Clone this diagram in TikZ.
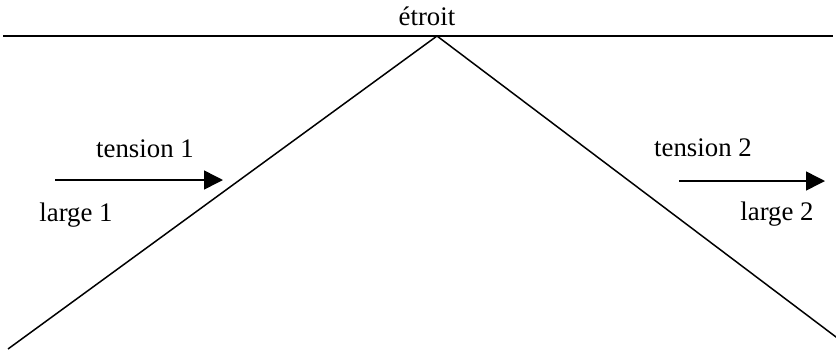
\documentclass[tikz,border=0pt]{standalone}
\usepackage{fontspec}
\setmainfont{Liberation Serif}
\usetikzlibrary{arrows.meta}

\begin{document}
\begin{tikzpicture}[
  x=0.5pt, y=-0.5pt,
  >={Triangle[length=9.5pt, width=9.5pt]},
  edge/.style={line width=0.75pt, black},
  flow/.style={->, line width=0.75pt, black},
  lbl/.style={font=\fontsize{13.4}{16}\selectfont, inner sep=0pt, anchor=base},
]
\useasboundingbox (0,0) rectangle (836,349);

% Profile: top line and the two slopes
\coordinate (topL) at (3,36);
\coordinate (topR) at (833,36);
\coordinate (apex) at (437,36);
\coordinate (footL) at (8,349);
\coordinate (footR) at (840,340);

\draw[edge] (topL) -- (topR);
\draw[edge] (footL) -- (apex) -- (footR);

\node[lbl] (etroit) at (427,25) {étroit};

% Left side
\coordinate (inL) at (55,180);
\coordinate (outL) at (223,180);
\draw[flow] (inL) -- (outL);
\node[lbl] (tension1) at (145,157) {tension 1};
\node[lbl] (large1) at (76,221) {large 1};

% Right side
\coordinate (inR) at (679,181);
\coordinate (outR) at (825,181);
\draw[flow] (inR) -- (outR);
\node[lbl] (tension2) at (703,156) {tension 2};
\node[lbl] (large2) at (777,220) {large 2};

\end{tikzpicture}
\end{document}
